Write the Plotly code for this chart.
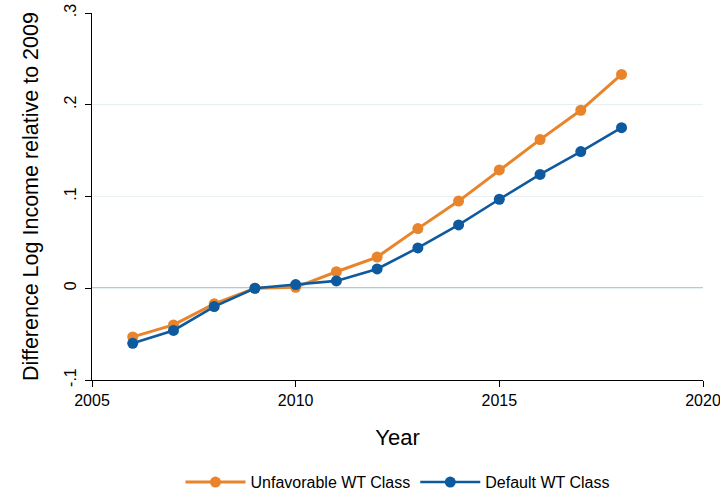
import plotly.graph_objects as go

years = [2006, 2007, 2008, 2009, 2010, 2011, 2012, 2013, 2014, 2015, 2016, 2017, 2018]
unfavorable = [-0.053, -0.040, -0.017, 0.0, 0.001, 0.018, 0.034, 0.065, 0.095, 0.129, 0.162, 0.194, 0.233]
default = [-0.060, -0.046, -0.020, 0.0, 0.004, 0.008, 0.021, 0.044, 0.069, 0.097, 0.124, 0.149, 0.175]

y_tickvals = [-0.1, 0.0, 0.1, 0.2, 0.3]
y_ticktext = ["-.1", "0", ".1", ".2", ".3"]
x_tickvals = [2005, 2010, 2015, 2020]

orange = "#E8842B"
blue = "#0E5A9E"
font_family = "Liberation Sans, Arial, sans-serif"

fig = go.Figure()
fig.add_trace(go.Scatter(
    x=years, y=unfavorable, mode="lines+markers", name="Unfavorable WT Class",
    line=dict(color=orange, width=3), marker=dict(color=orange, size=11),
))
fig.add_trace(go.Scatter(
    x=years, y=default, mode="lines+markers", name="Default WT Class",
    line=dict(color=blue, width=2.6), marker=dict(color=blue, size=11),
))

# zero reference line
fig.add_hline(y=0, line=dict(color="#8a8a8a", width=1.6), layer="below")

fig.update_layout(
    width=720, height=493,
    margin=dict(l=92, r=17, t=13, b=113, autoexpand=False),
    paper_bgcolor="white", plot_bgcolor="white",
    font=dict(family=font_family, color="black", size=16),
    showlegend=True,
    legend=dict(
        orientation="h", x=0.5, xanchor="center",
        yref="container", y=0.022, yanchor="middle",
        font=dict(size=16), itemwidth=60, bgcolor="rgba(0,0,0,0)",
    ),
    xaxis=dict(
        range=[2005, 2020], tickvals=x_tickvals, showgrid=False, zeroline=False,
        showline=True, linecolor="black", linewidth=1.2,
        ticks="outside", ticklen=6, tickcolor="black",
        tickfont=dict(size=16), automargin=False, ticklabeloverflow="allow",
        title=dict(text="Year", font=dict(size=22), standoff=21),
    ),
    yaxis=dict(
        range=[-0.1, 0.3], tickvals=y_tickvals, ticktext=y_ticktext,
        tickangle=-90, showgrid=True, gridcolor="#e8eff2", gridwidth=1,
        zeroline=False, showline=True, linecolor="black", linewidth=1.2,
        ticks="outside", ticklen=6, tickcolor="black", ticklabelstandoff=3,
        tickfont=dict(size=16), automargin=False, ticklabeloverflow="allow",
        title=dict(text="Difference Log Income relative to 2009", font=dict(size=21.5), standoff=16),
    ),
)

# remove the browser's default 8px body margin so the figure fills the window
fig.write_html(
    "out.html",
    config={"displayModeBar": False},
    post_script="document.body.style.margin='0';",
)
